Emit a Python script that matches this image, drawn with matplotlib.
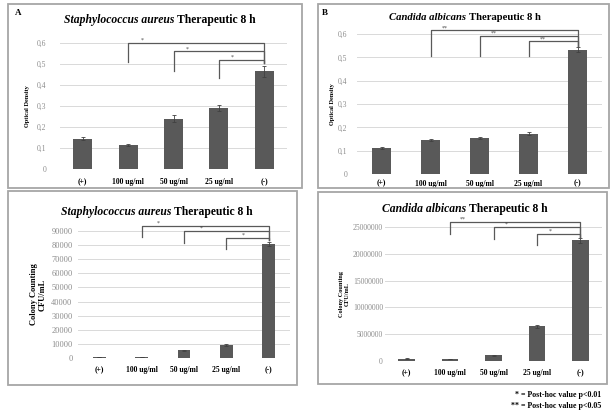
import matplotlib
matplotlib.use("Agg")
import matplotlib.pyplot as plt
from matplotlib.patches import Rectangle
from matplotlib.ticker import FuncFormatter

# ── Data ───────────────────────────────────────────────────────────────────────
groups = ["(+)", "100 ug/ml", "50 ug/ml", "25 ug/ml", "(-)"]

sa_od = [0.145, 0.115, 0.240, 0.292, 0.465]
sa_od_err = [0.006, 0.004, 0.015, 0.015, 0.025]

ca_od = [0.112, 0.146, 0.155, 0.173, 0.533]
ca_od_err = [0.005, 0.005, 0.005, 0.007, 0.010]

sa_cfu = [700, 500, 5500, 9000, 81000]
sa_cfu_err = [150, 100, 500, 600, 1500]

ca_cfu = [450000, 380000, 1050000, 6500000, 22500000]
ca_cfu_err = [50000, 40000, 80000, 250000, 400000]

# brackets: (from group, bracket height, start height of left leg, label)
sa_od_brackets = [(1, 0.600, 0.508, "*"), (2, 0.561, 0.468, "*"), (3, 0.520, 0.435, "*")]
ca_od_brackets = [(1, 0.616, 0.504, "**"), (2, 0.593, 0.504, "**"), (3, 0.569, 0.504, "**")]
sa_cfu_brackets = [(1, 93600, 85800, "*"), (2, 90000, 81800, "*"), (3, 85300, 77500, "*")]
ca_cfu_brackets = [(1, 26000000, 23750000, "**"), (2, 25000000, 22800000, "*"),
                   (3, 23750000, 21600000, "*")]

SERIF = "Liberation Serif"
W, H = 611, 411
BAR = "#595959"
GRID = "#d9d9d9"


def px_axes(fig, x0, y0, x1, y1):
    return fig.add_axes([x0 / W, 1 - y1 / H, (x1 - x0) / W, (y1 - y0) / H])


def box(fig, x0, y0, x1, y1):
    fig.patches.append(Rectangle((x0 / W, 1 - y1 / H), (x1 - x0) / W, (y1 - y0) / H,
                                 transform=fig.transFigure, fill=False,
                                 edgecolor="#a6a6a6", linewidth=1.3))


def title(fig, xc, yc, species, rest, size=8.4):
    # italic-bold species + bold rest, centred as one line
    r = fig.canvas.get_renderer()
    t1 = fig.text(0, 0, species + " ", family=SERIF, style="italic",
                  weight="bold", size=size)
    t2 = fig.text(0, 0, rest, family=SERIF, weight="bold", size=size)
    w1 = t1.get_window_extent(r).width
    w2 = t2.get_window_extent(r).width
    start = xc - (w1 + w2) / 2
    t1.set_position((start / W, 1 - yc / H))
    t2.set_position(((start + w1) / W, 1 - yc / H))
    t1.set_va("center")
    t2.set_va("center")


def panel(ax, vals, errs, ymax, step, width, fmt, ylabel, ysize, brackets,
          star_dx, xpad, ypad, ytsize, labelpad):
    x = list(range(len(groups)))
    ax.bar(x, vals, width=width, color=BAR, zorder=3)
    ax.errorbar(x, vals, yerr=errs, fmt="none", ecolor="#404040",
                elinewidth=0.6, capsize=1.5, capthick=0.6, zorder=4)
    ax.set_xlim(-0.5, len(groups) - 0.5)
    ax.set_ylim(0, ymax)
    ticks = [i * step for i in range(int(round(ymax / step)) + 1)]
    ax.set_yticks(ticks)
    ax.yaxis.set_major_formatter(FuncFormatter(fmt))
    ax.grid(axis="y", color=GRID, linewidth=0.7, zorder=0)
    for s in ax.spines.values():
        s.set_visible(False)
    ax.tick_params(length=0)
    ax.set_xticks(x)
    ax.set_xticklabels(groups, family=SERIF, weight="bold", size=5.5)
    for lab in ax.get_yticklabels():
        lab.set_family(SERIF)
        lab.set_size(ytsize)
        lab.set_color("#8c8c8c")
    ax.tick_params(axis="x", pad=xpad)
    ax.tick_params(axis="y", pad=ypad)
    ax.set_ylabel(ylabel, family=SERIF, weight="bold", size=ysize,
                  labelpad=labelpad)

    right = len(groups) - 1
    for g, hy, low, lab in brackets:
        ax.plot([g, g, right, right], [low, hy, hy, vals[right] + errs[right] * 1.6],
                color="#595959", linewidth=0.9, clip_on=False, zorder=5)
        ax.text(g + star_dx, hy, lab, family=SERIF, size=4.2, ha="center",
                va="bottom", color="#404040", zorder=6)


def comma(v, _):
    return "0" if v == 0 else f"{v:.1f}".replace(".", ",")


def plain(v, _):
    return f"{int(round(v))}"


fig = plt.figure(figsize=(W / 100, H / 100), dpi=100)
fig.patch.set_facecolor("white")

box(fig, 8, 4, 302, 188)
box(fig, 8, 191, 297, 385)
box(fig, 318, 4, 609, 188)
box(fig, 318, 192, 607, 384)

ax1 = px_axes(fig, 60, 43, 287, 169)
panel(ax1, sa_od, sa_od_err, 0.6, 0.1, 0.42, comma, "Optical Density", 4.5,
      sa_od_brackets, 0.3, 6.5, 10, 5.5, 5)

ax2 = px_axes(fig, 78, 231, 290, 358)
panel(ax2, sa_cfu, sa_cfu_err, 90000, 10000, 0.3, plain,
      "Colony Counting\nCFU/mL", 6, sa_cfu_brackets, 0.4, 6, 4, 6, 3)

ax3 = px_axes(fig, 357, 34, 602, 174)
panel(ax3, ca_od, ca_od_err, 0.6, 0.1, 0.37, comma, "Optical Density", 4.5,
      ca_od_brackets, 0.3, 4, 7, 5.5, 2)

ax4 = px_axes(fig, 385, 227, 602, 361)
panel(ax4, ca_cfu, ca_cfu_err, 25000000, 5000000, 0.38, plain,
      "Colony Counting\nCFU/mL", 4.5, ca_cfu_brackets, 0.3, 6, 1.5, 5.5, 2)

title(fig, 160, 20, "Staphylococcus aureus", "Therapeutic 8 h")
title(fig, 465, 17, "Candida albicans", "Therapeutic 8 h", size=7.7)
title(fig, 157, 212, "Staphylococcus aureus", "Therapeutic 8 h")
title(fig, 465, 209, "Candida albicans", "Therapeutic 8 h")

fig.text(15 / W, 1 - 13 / H, "A", family=SERIF, weight="bold", size=6.5, va="center")
fig.text(322 / W, 1 - 13 / H, "B", family=SERIF, weight="bold", size=6.5, va="center")

fig.text(601 / W, 1 - 395 / H, "* = Post-hoc value p<0.01", family=SERIF,
         weight="bold", size=5.7, ha="right", va="center")
fig.text(601 / W, 1 - 406 / H, "** = Post-hoc value p<0.05", family=SERIF,
         weight="bold", size=5.7, ha="right", va="center")

fig.savefig("out.png", dpi=100)
